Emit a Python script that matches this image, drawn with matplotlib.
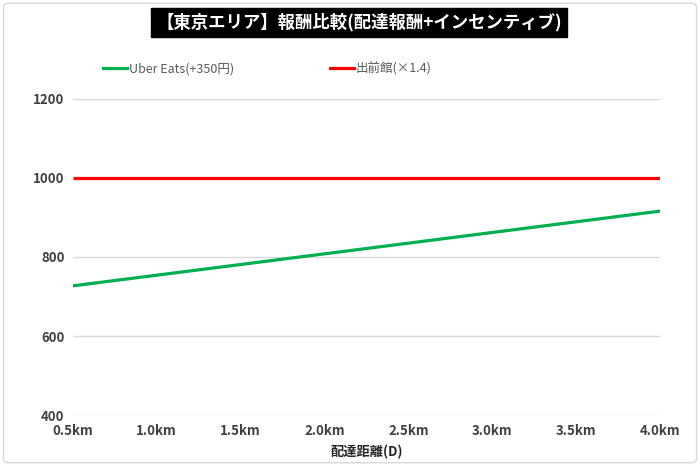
import matplotlib
matplotlib.use("Agg")
import matplotlib.pyplot as plt
from matplotlib.patches import FancyBboxPatch
from matplotlib.lines import Line2D

plt.rcParams['font.family'] = ['Noto Sans CJK JP', 'DejaVu Sans']

distances = ["0.5km", "1.0km", "1.5km", "2.0km", "2.5km", "3.0km", "3.5km", "4.0km"]
uber_eats = [727, 754, 781, 808, 835, 862, 889, 916]
demaecan = [1000, 1000, 1000, 1000, 1000, 1000, 1000, 1000]
yticks = [400, 600, 800, 1000, 1200]

title = "【東京エリア】報酬比較(配達報酬+インセンティブ)"
label_uber = "Uber Eats(+350円)"
label_demae = "出前館(×1.4)"
xlabel = "配達距離(D)"

fig = plt.figure(figsize=(7, 4.66), dpi=100)
ax = fig.add_axes([0.104, 0.109, 0.839, 0.679])

x = list(range(len(distances)))
ax.plot(x, uber_eats, color="#00b050", lw=2.3, solid_capstyle="butt", zorder=3)
ax.plot(x, demaecan, color="#ff0000", lw=2.3, solid_capstyle="butt", zorder=3)

ax.set_xlim(0, len(distances) - 1)
ax.set_ylim(400, 1200)
ax.set_yticks(yticks)
ax.set_xticks(x)
ax.set_xticklabels(distances)
ax.grid(axis="y", color="#d9d9d9", lw=1)
ax.set_axisbelow(True)
for s in ax.spines.values():
    s.set_visible(False)
ax.tick_params(length=0, labelsize=9.5, colors="#404040", pad=6)
for t in ax.get_xticklabels() + ax.get_yticklabels():
    t.set_fontweight("bold")
ax.set_xlabel(xlabel, fontsize=9.5, color="#262626", labelpad=5, fontweight="bold")

# title box
fig.text(0.513, 0.952, title, ha="center", va="center", fontsize=12.5, color="white",
         fontweight="bold",
         bbox=dict(boxstyle="square,pad=0.3", fc="black", ec="black"))

handles = [Line2D([], [], color="#00b050", lw=2.3), Line2D([], [], color="#ff0000", lw=2.3)]
leg = fig.legend(handles, [label_uber, label_demae], ncol=2, loc="center left",
                 bbox_to_anchor=(0.131, 0.852), frameon=False, fontsize=9,
                 handlelength=1.9, handletextpad=0.15, columnspacing=7.7)
for t in leg.get_texts():
    t.set_color("#595959")

border = FancyBboxPatch((0.005, 0.007), 0.99, 0.986, boxstyle="round,pad=0,rounding_size=0.008",
                        transform=fig.transFigure, fc="none", ec="#d9d9d9", lw=1)
fig.patches.append(border)

fig.savefig("out.png", dpi=100)
